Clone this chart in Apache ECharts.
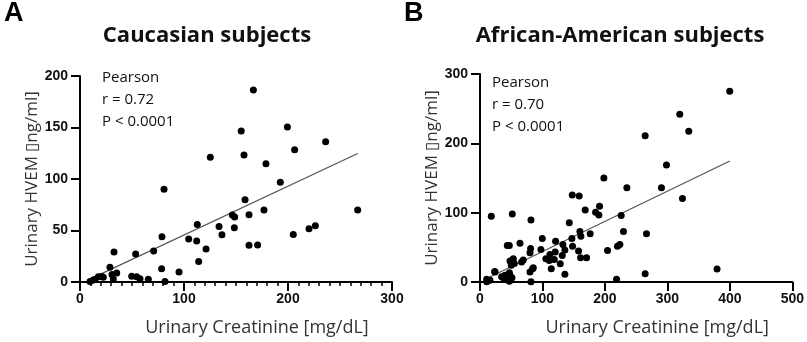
<!DOCTYPE html>
<html>
<head>
<meta charset="utf-8">
<script src="https://cdn.jsdelivr.net/npm/echarts@6/dist/echarts.min.js"></script>
<style>
  html, body { margin: 0; padding: 0; background: #fff; }
  #chart { width: 807px; height: 342px; }
</style>
</head>
<body>
<div id="chart"></div>
<script>
// Panel A: Caucasian subjects [creatinine mg/dL, HVEM ng/ml]
const caucasianPoints = [
  [9.6, 0.5], [12.8, 2], [14.4, 2.5], [17.6, 5.1], [20.8, 5.4], [22.4, 4.5], [28.8, 14.2],
  [30.8, 7.4], [32, 2.9], [32.7, 29.2], [35.3, 8.7], [49.7, 5.6], [53.5, 27.2], [54.5, 5.1],
  [57.7, 3.2], [65.7, 2.6], [70.8, 30.1], [78.5, 12.8], [78.8, 43.9], [80.8, 90.1], [81.7, 0.6],
  [95.2, 9.6], [104.5, 41.7], [112.2, 39.7], [112.8, 55.8], [114.1, 19.9], [121.2, 32.1],
  [125.3, 121.2], [133.7, 53.8], [136.5, 45.8], [146.5, 65.1], [148.4, 52.6], [148.7, 63.1],
  [155, 146.5], [157.7, 123.4], [158.7, 79.8], [162.5, 65.4], [162.5, 35.6], [166.7, 186.5],
  [170.8, 35.9], [176.9, 69.9], [178.8, 114.7], [192.6, 96.8], [199.4, 150.6], [205.1, 46.2],
  [206.4, 128.5], [220.2, 51.6], [226.3, 54.5], [236.2, 136.2], [267, 69.9]
];
const caucasianFit = [[9.6, 2.8], [267, 124.7]];

// Panel B: African-American subjects
const africanPoints = [
  [10.7, 0.5], [10.7, 3.8], [16, 2.4], [18.1, 94.9], [23.5, 15.3], [24, 14.4], [34.6, 7.7],
  [37.3, 6.2], [40, 9.6], [42.6, 8.7], [43.7, 52.7], [45.3, 3.8], [46.9, 52.7], [47, 1],
  [47, 13.5], [48, 9.6], [48, 30.2], [50, 24], [51.2, 6.2], [51.7, 98.2], [53.3, 33.5],
  [54.9, 26.8], [64, 56], [66.6, 28.8], [69.3, 31.6], [80, 42.2], [80, 14.4], [81, 48.4],
  [81.6, 89.6], [81.6, 0.5], [84.2, 19.2], [85.3, 20.6], [97.5, 47], [99.7, 62.8], [105.5, 33.5],
  [110.9, 31.1], [112, 39.8], [114.1, 19.2], [118.9, 32.6], [120.4, 43.1], [121, 58.9],
  [128.5, 26.4], [131.7, 38.3], [132.7, 54.1], [135.9, 46], [135.9, 11], [142.9, 85.3],
  [147.1, 62.8], [147.7, 125.5], [148.2, 51.7], [157.8, 44.6], [158.8, 124.1], [159.9, 72.8],
  [161, 35], [161.5, 66.1], [168.4, 104], [170.6, 35], [176.4, 69.5], [185, 100.6],
  [190.3, 96.8], [191.4, 109.2], [198.3, 150], [204.2, 45.5], [218.6, 3.8], [220.1, 51.7],
  [223.9, 54.1], [226, 95.8], [229.7, 72.8], [235.1, 136.1], [264.4, 210.8], [264.4, 12],
  [266.5, 69.5], [290.5, 136.1], [298.5, 168.7], [319.8, 242], [324.1, 120.3], [334.2, 217.5],
  [379.5, 18.7], [399.8, 275]
];
const africanFit = [[10, 4.7], [400, 174.5]];

const xName = 'Urinary Creatinine [mg/dL]';
const yName = 'Urinary HVEM \u25AFng/ml]';

const chart = echarts.init(document.getElementById('chart'));

function ax(grid, name, max, interval, isX, minor) {
  return {
    type: 'value', gridIndex: grid, min: 0, max: max, interval: interval,
    name: name, nameLocation: 'middle', nameGap: isX ? 37 : 39,
    nameTextStyle: {color: '#333', fontFamily: 'Open Sans', fontSize: isX ? 18 : 17, padding: isX ? [0, 0, 0, 42] : 0},
    axisLine: {show: true, lineStyle: {color: '#000', width: 2}},
    axisTick: {show: true, length: 9, lineStyle: {color: '#000', width: 2}},
    minorTick: {show: minor, splitNumber: 10, length: 4, lineStyle: {color: '#000', width: 1.5}},
    axisLabel: {margin: isX ? 10 : 12, color: '#111', fontFamily: 'Liberation Sans', fontWeight: 'bold', fontSize: 14},
    splitLine: {show: false}
  };
}

const statsLines = (r) => 'Pearson\nr = ' + r + '\nP < 0.0001';
const panelFont = {fontFamily: 'Liberation Sans', fontWeight: 'bold', fontSize: 27, color: '#000'};
const titleFont = {fontFamily: 'Open Sans', fontWeight: 'bold', fontSize: 22, color: '#111'};

chart.setOption({
  animation: false,
  title: [
    {text: 'A', left: -1, top: -5, textStyle: panelFont},
    {text: 'B', left: 399, top: -5, textStyle: panelFont},
    {text: 'Caucasian subjects', left: 202, top: 20, textAlign: 'center', textStyle: titleFont},
    {text: 'African-American subjects', left: 615, top: 20, textAlign: 'center', textStyle: titleFont}
  ],
  graphic: [
    {type: 'text', left: 102, top: 67, style: {text: statsLines('0.72'), fontFamily: 'Open Sans', fontSize: 15, lineHeight: 22, fill: '#111'}},
    {type: 'text', left: 492, top: 72, style: {text: statsLines('0.70'), fontFamily: 'Open Sans', fontSize: 15, lineHeight: 22, fill: '#111'}}
  ],
  grid: [
    {left: 80, top: 76, width: 312, height: 208},
    {left: 480, top: 74, width: 312.7, height: 208.7}
  ],
  xAxis: [ax(0, xName, 300, 100, true, true), ax(1, xName, 500, 100, true, false)],
  yAxis: [ax(0, yName, 200, 50, false, false), ax(1, yName, 300, 100, false, false)],
  series: [
    {type: 'scatter', xAxisIndex: 0, yAxisIndex: 0, data: caucasianPoints, symbolSize: 7,
     itemStyle: {color: '#000', opacity: 1}, z: 3},
    {type: 'line', xAxisIndex: 0, yAxisIndex: 0, data: caucasianFit, symbol: 'none',
     lineStyle: {color: '#555', width: 1.2}, z: 2},
    {type: 'scatter', xAxisIndex: 1, yAxisIndex: 1, data: africanPoints, symbolSize: 7,
     itemStyle: {color: '#000', opacity: 1}, z: 3},
    {type: 'line', xAxisIndex: 1, yAxisIndex: 1, data: africanFit, symbol: 'none',
     lineStyle: {color: '#555', width: 1.2}, z: 2}
  ]
});
</script>
</body>
</html>
